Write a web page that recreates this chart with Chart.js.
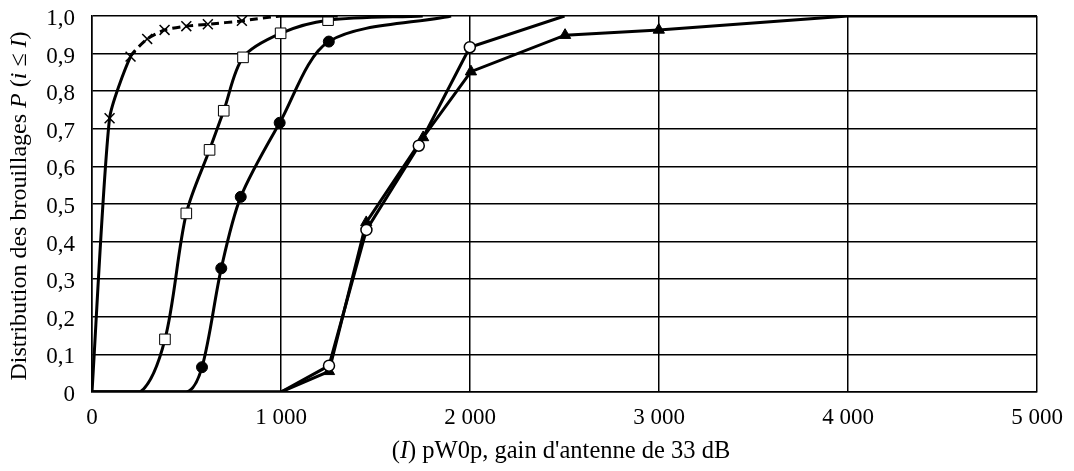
<!DOCTYPE html>
<html>
<head>
<meta charset="utf-8">
<script src="https://cdn.jsdelivr.net/npm/chart.js@4/dist/chart.umd.min.js"></script>
<style>
  html, body { margin: 0; padding: 0; background: #fff; }
  #wrap { width: 1074px; height: 471px; }
</style>
</head>
<body>
<div id="wrap"><canvas id="c" width="1074" height="471"></canvas></div>
<script>
// ---- Data ----
const crossX  = [0, 93, 204, 292, 384, 499, 613, 793, 1000, 1300];
const crossY  = [0, 0.728, 0.892, 0.939, 0.963, 0.973, 0.978, 0.987, 1.0, 1.0];

const squareX = [0, 255, 386, 499, 622, 697, 799, 998, 1249, 1750];
const squareY = [0, 0, 0.140, 0.475, 0.644, 0.748, 0.890, 0.954, 0.989, 1.0];

const dotX    = [0, 500, 582, 684, 787, 993, 1253, 1900];
const dotY    = [0, 0, 0.066, 0.329, 0.519, 0.716, 0.932, 1.0];

const circleX = [0, 1000, 1254, 1452, 1729, 1999, 2500];
const circleY = [0, 0, 0.070, 0.431, 0.655, 0.917, 1.0];

const triX    = [0, 1000, 1254, 1451, 1752, 2005, 2503, 2999, 4000, 5000];
const triY    = [0, 0, 0.055, 0.451, 0.677, 0.852, 0.949, 0.963, 1.0, 1.0];

const xTickLabels = ['0', '1 000', '2 000', '3 000', '4 000', '5 000'];
const yTickLabels = ['0', '0,1', '0,2', '0,3', '0,4', '0,5', '0,6', '0,7', '0,8', '0,9', '1,0'];

const yTitleParts = [
  { t: 'Distribution des brouillages ', i: false },
  { t: 'P', i: true },
  { t: ' (', i: false },
  { t: 'i', i: true },
  { t: ' \u2264 ', i: false },
  { t: 'I', i: true },
  { t: ')', i: false }
];
const xTitleParts = [
  { t: '(', i: false },
  { t: 'I', i: true },
  { t: ") pW0p, gain d'antenne de 33 dB", i: false }
];

// ---- helpers ----
const FONT = '"Liberation Serif", "Times New Roman", serif';
function pts(xs, ys) { return xs.map((x, k) => ({ x: x, y: ys[k] })); }
function markerRadius(r) {
  return ctx => {
    const v = ctx.raw;
    if (!v) return 0;
    return (v.y <= 0 || v.y >= 1) ? 0 : r;
  };
}

function drawRich(ctx, parts, cx, cy, rot, size) {
  ctx.save();
  ctx.translate(cx, cy);
  ctx.rotate(rot);
  ctx.fillStyle = '#000';
  ctx.textBaseline = 'middle';
  ctx.textAlign = 'left';
  let total = 0;
  const widths = parts.map(p => {
    ctx.font = (p.i ? 'italic ' : '') + size + 'px ' + FONT;
    const w = ctx.measureText(p.t).width;
    total += w;
    return w;
  });
  let x = -total / 2;
  parts.forEach((p, k) => {
    ctx.font = (p.i ? 'italic ' : '') + size + 'px ' + FONT;
    ctx.fillText(p.t, x, 0);
    x += widths[k];
  });
  ctx.restore();
}

const titlePlugin = {
  id: 'richTitles',
  afterDraw(chart) {
    const ctx = chart.ctx;
    drawRich(ctx, yTitleParts, 20, 206, -Math.PI / 2, 24);
    drawRich(ctx, xTitleParts, 561, 452, 0, 24.5);
  }
};

const bgPlugin = {
  id: 'bg',
  beforeDraw(chart) {
    const ctx = chart.ctx;
    ctx.save();
    ctx.fillStyle = '#fff';
    ctx.fillRect(0, 0, chart.width, chart.height);
    ctx.restore();
  }
};

const baseLine = {
  borderColor: '#000',
  borderWidth: 3,
  pointBorderColor: '#000',
  fill: false
};

const chart = new Chart(document.getElementById('c'), {
  type: 'line',
  data: {
    datasets: [
      Object.assign({}, baseLine, {
        label: 'x',
        data: pts(crossX, crossY),
        tension: 0.2,
        pointStyle: 'crossRot',
        pointRadius: markerRadius(7),
        pointBorderWidth: 1.5,
        pointBackgroundColor: '#000',
        segment: {
          borderDash: c => (c.p0DataIndex >= 2 && c.p0DataIndex <= 7) ? [8, 5] : undefined
        }
      }),
      Object.assign({}, baseLine, {
        label: 'square',
        data: pts(squareX, squareY),
        tension: 0.3,
        pointStyle: 'rect',
        pointRadius: markerRadius(7.5),
        pointBorderWidth: 1,
        pointBackgroundColor: '#fff'
      }),
      Object.assign({}, baseLine, {
        label: 'dot',
        data: pts(dotX, dotY),
        tension: 0.3,
        pointStyle: 'circle',
        pointRadius: markerRadius(5.5),
        pointBorderWidth: 1,
        pointBackgroundColor: '#000'
      }),
      Object.assign({}, baseLine, {
        label: 'circle',
        data: pts(circleX, circleY),
        tension: 0,
        pointStyle: 'circle',
        pointRadius: markerRadius(5.5),
        pointBorderWidth: 1.5,
        pointBackgroundColor: '#fff'
      }),
      Object.assign({}, baseLine, {
        label: 'triangle',
        data: pts(triX, triY),
        tension: 0,
        pointStyle: 'triangle',
        pointRadius: markerRadius(6.5),
        pointBorderWidth: 1,
        pointBackgroundColor: '#000'
      })
    ]
  },
  options: {
    responsive: false,
    animation: false,
    events: [],
    layout: { padding: { left: 0, right: 37, top: 16, bottom: 0 } },
    plugins: {
      legend: { display: false },
      tooltip: { enabled: false },
      title: { display: false }
    },
    scales: {
      x: {
        type: 'linear',
        min: 0,
        max: 5000,
        ticks: {
          stepSize: 1000,
          color: '#000',
          padding: 12,
          maxRotation: 0,
          font: { family: FONT, size: 23 },
          callback: v => xTickLabels[Math.round(v / 1000)]
        },
        grid: { color: '#000', lineWidth: 1.5, drawTicks: false },
        border: { color: '#000', width: 1.5 },
        afterFit: s => { s.height = 79; s.paddingLeft = 0; s.paddingRight = 0; }
      },
      y: {
        type: 'linear',
        min: 0,
        max: 1,
        ticks: {
          stepSize: 0.1,
          color: '#000',
          padding: 17,
          labelOffset: 3,
          font: { family: FONT, size: 23 },
          callback: v => yTickLabels[Math.round(v * 10)]
        },
        grid: { color: '#000', lineWidth: 1.5, drawTicks: false },
        border: { color: '#000', width: 1.5 },
        afterFit: s => { s.width = 92; s.paddingTop = 0; s.paddingBottom = 0; }
      }
    }
  },
  plugins: [bgPlugin, titlePlugin]
});
</script>
</body>
</html>
